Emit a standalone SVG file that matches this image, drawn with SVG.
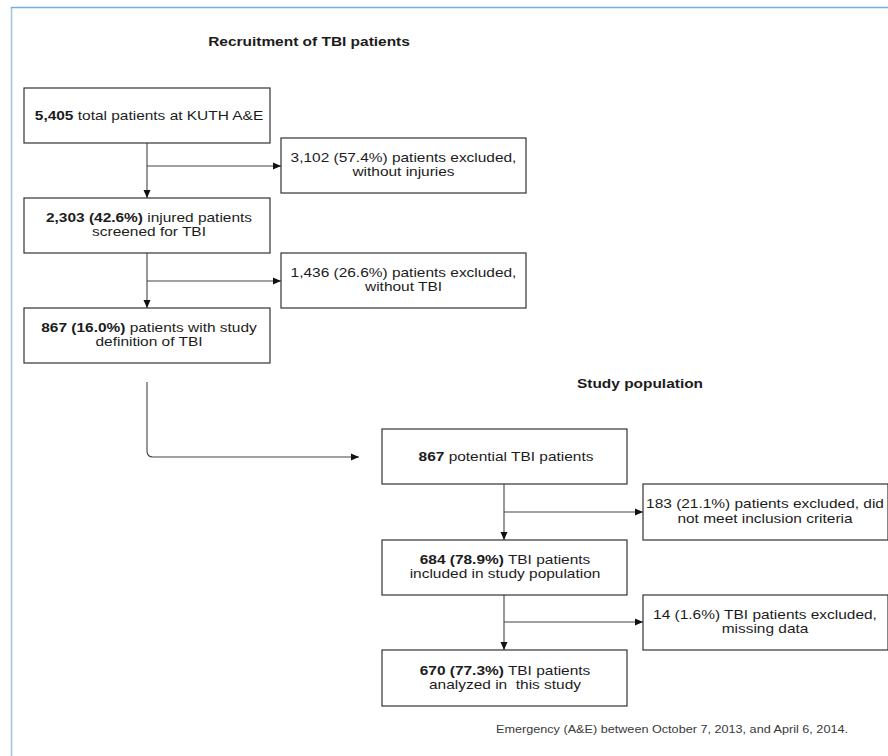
<svg xmlns="http://www.w3.org/2000/svg" width="888" height="756" viewBox="0 0 888 756">
<style>
.box{fill:#fff;stroke:#333;stroke-width:1.2}
.t{font-family:"Liberation Sans",Arial,sans-serif;font-size:13px;fill:#1c1c1c;text-anchor:middle}
.b{font-weight:bold}
.h{font-family:"Liberation Sans",Arial,sans-serif;font-size:13px;font-weight:bold;fill:#1c1c1c;text-anchor:middle}
.f{font-family:"Liberation Sans",Arial,sans-serif;font-size:11px;fill:#3a3a3a;text-anchor:middle}
.c{fill:none;stroke:#444;stroke-width:1.1}
</style>
<defs>
<marker id="ah" markerUnits="userSpaceOnUse" markerWidth="9" markerHeight="8" refX="8" refY="4" orient="auto">
<path d="M0,0.5 L8,4 L0,7.5 Z" fill="#111"/>
</marker>
</defs>
<rect width="888" height="756" fill="#fff"/>
<g id="frame">
<line x1="11.5" y1="7" x2="11.5" y2="756" stroke="#a6c6e6" stroke-width="1.6"/>
<line x1="11" y1="7.5" x2="888" y2="7.5" stroke="#78abdf" stroke-width="1.3"/>
</g>
<g id="titles">
<text class="h" transform="translate(309,46) scale(1.19,1)">Recruitment of TBI patients</text>
<text class="h" transform="translate(640,388) scale(1.19,1)">Study population</text>
</g>
<g id="connectors">
<path class="c" d="M147,143 V198" marker-end="url(#ah)"/>
<path class="c" d="M147,166 H281" marker-end="url(#ah)"/>
<path class="c" d="M147,253 V308" marker-end="url(#ah)"/>
<path class="c" d="M147,281 H281" marker-end="url(#ah)"/>
<path class="c" d="M147,382 V451 Q147,457 153,457 H359" marker-end="url(#ah)"/>
<path class="c" d="M504,484 V540" marker-end="url(#ah)"/>
<path class="c" d="M504,512 H643" marker-end="url(#ah)"/>
<path class="c" d="M504,595 V650" marker-end="url(#ah)"/>
<path class="c" d="M504,622 H643" marker-end="url(#ah)"/>
</g>
<g id="n1">
<rect class="box" x="24" y="88" width="246" height="55"/>
<text class="t" transform="translate(149,120) scale(1.19,1)"><tspan class="b">5,405</tspan> total patients at KUTH A&amp;E</text>
</g>
<g id="x1">
<rect class="box" x="281" y="138" width="245" height="55"/>
<text class="t" transform="translate(403.5,162) scale(1.19,1)">3,102 (57.4%) patients excluded,</text>
<text class="t" transform="translate(403.5,176) scale(1.19,1)">without injuries</text>
</g>
<g id="n2">
<rect class="box" x="24" y="198" width="246" height="55"/>
<text class="t" transform="translate(149,222) scale(1.19,1)"><tspan class="b">2,303 (42.6%)</tspan> injured patients</text>
<text class="t" transform="translate(149,236) scale(1.19,1)">screened for TBI</text>
</g>
<g id="x2">
<rect class="box" x="281" y="253" width="245" height="55"/>
<text class="t" transform="translate(403.5,277) scale(1.19,1)">1,436 (26.6%) patients excluded,</text>
<text class="t" transform="translate(403.5,291) scale(1.19,1)">without TBI</text>
</g>
<g id="n3">
<rect class="box" x="24" y="308" width="246" height="55"/>
<text class="t" transform="translate(149,332) scale(1.19,1)"><tspan class="b">867 (16.0%)</tspan> patients with study</text>
<text class="t" transform="translate(149,346) scale(1.19,1)">definition of TBI</text>
</g>
<g id="n4">
<rect class="box" x="382" y="429" width="245" height="55"/>
<text class="t" transform="translate(506,461) scale(1.19,1)"><tspan class="b">867</tspan> potential TBI patients</text>
</g>
<g id="x3">
<rect class="box" x="643" y="484" width="245" height="56"/>
<text class="t" transform="translate(765,508) scale(1.19,1)">183 (21.1%) patients excluded, did</text>
<text class="t" transform="translate(765,522.5) scale(1.19,1)">not meet inclusion criteria</text>
</g>
<g id="n5">
<rect class="box" x="382" y="540" width="245" height="55"/>
<text class="t" transform="translate(505,564) scale(1.19,1)"><tspan class="b">684 (78.9%)</tspan> TBI patients</text>
<text class="t" transform="translate(505,578) scale(1.19,1)">included in study population</text>
</g>
<g id="x4">
<rect class="box" x="643" y="595" width="245" height="55"/>
<text class="t" transform="translate(765,619) scale(1.19,1)">14 (1.6%) TBI patients excluded,</text>
<text class="t" transform="translate(765,633) scale(1.19,1)">missing data</text>
</g>
<g id="n6">
<rect class="box" x="382" y="650" width="245" height="56"/>
<text class="t" transform="translate(505,674.5) scale(1.19,1)" xml:space="preserve"><tspan class="b">670 (77.3%)</tspan> TBI patients</text>
<text class="t" transform="translate(505,688.5) scale(1.19,1)" xml:space="preserve">analyzed in  this study</text>
</g>
<g id="footer">
<text class="f" transform="translate(672,733) scale(1.15,1)">Emergency (A&amp;E) between October 7, 2013, and April 6, 2014.</text>
</g>
</svg>
